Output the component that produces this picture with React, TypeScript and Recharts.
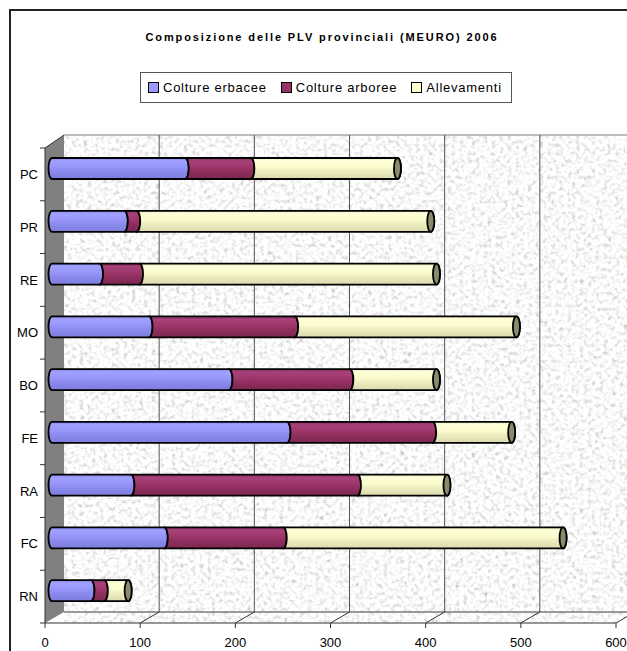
import React from 'react';
import { BarChart, Bar, XAxis, YAxis, ReferenceArea, ReferenceLine } from 'recharts';

const categories = ['PC', 'PR', 'RE', 'MO', 'BO', 'FE', 'RA', 'FC', 'RN'];
const coltureErbacee = [140, 76, 50, 102, 186, 247, 83, 118, 41];
const coltureArboree = [69, 13, 42, 153, 127, 153, 238, 125, 14];
const allevamenti = [154, 309, 312, 233, 91, 83, 94, 294, 25];
const xTicks = [0, 100, 200, 300, 400, 500, 600];
const gridValues = [100, 200, 300, 400, 500, 600];

const seriesNames = ['Colture erbacee', 'Colture arboree', 'Allevamenti'];
const seriesColors = ['#9999ff', '#993366', '#ffffcc'];

const data = categories.map((c, i) => ({
  cat: c,
  erb: coltureErbacee[i],
  arb: coltureArboree[i],
  all: allevamenti[i],
}));

const FONT = "Arial, 'Liberation Sans', sans-serif";
const DX = 19; // depth offset x
const DYT = -13; // depth offset top
const DYB = -11; // depth offset bottom
const BAR_DX = 7;
const BAR_DY = -6;

const Background = (props: any) => {
  const { x, y, width, height } = props;
  const bx = x + DX;
  const top = y + DYT;
  const bottom = y + height + DYB;
  const right = x + width + DX;
  return (
    <g>
      <defs>
        <filter id="granite" x="0" y="0" width="100%" height="100%" filterUnits="objectBoundingBox">
          <feTurbulence type="fractalNoise" baseFrequency="0.25" numOctaves="3" seed="11" result="n" />
          <feColorMatrix
            in="n"
            type="matrix"
            values="0.55 0.48 0.48 0 0.2  0.48 0.55 0.48 0 0.2  0.48 0.48 0.55 0 0.2  0 0 0 0 1"
          />
        </filter>
        <linearGradient id="gBlue" x1="0" y1="0" x2="0" y2="1">
          <stop offset="0" stopColor="#8a8af0" />
          <stop offset="0.15" stopColor="#a0a0ff" />
          <stop offset="0.45" stopColor="#9696fa" />
          <stop offset="0.6" stopColor="#8c8cf0" />
          <stop offset="1" stopColor="#7c7cdc" />
        </linearGradient>
        <linearGradient id="gMaroon" x1="0" y1="0" x2="0" y2="1">
          <stop offset="0" stopColor="#8c2e5e" />
          <stop offset="0.15" stopColor="#a8427a" />
          <stop offset="0.45" stopColor="#9c366a" />
          <stop offset="0.6" stopColor="#92305f" />
          <stop offset="1" stopColor="#7c2650" />
        </linearGradient>
        <linearGradient id="gYellow" x1="0" y1="0" x2="0" y2="1">
          <stop offset="0" stopColor="#ececc0" />
          <stop offset="0.15" stopColor="#ffffd8" />
          <stop offset="0.45" stopColor="#fafacc" />
          <stop offset="0.6" stopColor="#eeeec0" />
          <stop offset="1" stopColor="#dadaae" />
        </linearGradient>
        <clipPath id="wallClip">
          <polygon points={`${bx},${top} ${right + 40},${top} ${right + 40},${bottom} ${right},${bottom} ${x + width},${y + height} ${x},${y + height} ${bx},${bottom}`} />
        </clipPath>
      </defs>
      <g clipPath="url(#wallClip)">
        <rect x={bx} y={top} width={width + 60} height={height + 30} fill="#ececec" filter="url(#granite)" />
      </g>
      <line x1={bx} y1={top} x2={right + 40} y2={top} stroke="#a8a8a8" strokeWidth={1.5} />
      <line x1={bx} y1={bottom} x2={right + 40} y2={bottom} stroke="#7a7a7a" strokeWidth={1.5} />
      <polygon
        points={`${x},${y} ${bx},${top} ${bx},${bottom} ${x},${y + height}`}
        fill="#808080"
      />
      <line x1={x} y1={y} x2={x} y2={y + height} stroke="#333" strokeWidth={1} />
      <line x1={x} y1={y} x2={bx} y2={top} stroke="#333" strokeWidth={1} />
    </g>
  );
};

const GridShape = (props: any) => {
  const { x1, y1, y2 } = props;
  const topY = Math.min(y1, y2);
  const botY = Math.max(y1, y2);
  return (
    <g>
      <line x1={x1 + DX} y1={topY + DYT} x2={x1 + DX} y2={botY + DYB} stroke="#555" strokeWidth={1} />
      <line x1={x1} y1={botY} x2={x1 + DX} y2={botY + DYB} stroke="#333" strokeWidth={1} />
    </g>
  );
};

const makeShape = (grad: string, first: boolean, last: boolean) => (props: any) => {
  const { x, y, width, height } = props;
  if (width == null || height == null) return <g />;
  const X = x + BAR_DX;
  const Y = y + BAR_DY;
  const w = Math.max(0, width);
  const h = height;
  const rx = 3.5;
  const ry = h / 2;
  const leftSweep = first ? 1 : 0;
  const d = `M ${X} ${Y} L ${X + w} ${Y} A ${rx} ${ry} 0 0 1 ${X + w} ${Y + h} L ${X} ${Y + h} A ${rx} ${ry} 0 0 ${leftSweep} ${X} ${Y} Z`;
  return (
    <g>
      <path d={d} fill={`url(#${grad})`} stroke="#000" strokeWidth={1.8} strokeLinejoin="round" />
      {last && (
        <ellipse cx={X + w} cy={Y + h / 2} rx={rx} ry={ry} fill="#8a8a6c" stroke="#000" strokeWidth={1.8} />
      )}
    </g>
  );
};

const blueShape = makeShape('gBlue', true, false);
const maroonShape = makeShape('gMaroon', false, false);
const yellowShape = makeShape('gYellow', false, true);

const YTickBoundaries = (props: any) => {
  const { x, y, height } = props;
  const n = categories.length;
  const step = height / n;
  const lines = [];
  for (let i = 0; i <= n; i++) {
    lines.push(<line key={i} x1={x - 5} y1={y + i * step} x2={x} y2={y + i * step} stroke="#333" strokeWidth={1} />);
  }
  return <g>{lines}</g>;
};

export default function App() {
  return (
    <div style={{ position: 'absolute', left: 0, top: 0, width: 627, height: 651, overflow: 'hidden', background: '#fff' }}>
      <div
        style={{
          position: 'absolute',
          left: 9,
          top: 9,
          width: 640,
          height: 660,
          border: '2px solid #222',
          boxSizing: 'border-box',
        }}
      />
      <div
        style={{
          position: 'absolute',
          left: 10,
          top: 30,
          width: 624,
          textAlign: 'center',
          fontFamily: FONT,
          fontWeight: 'bold',
          fontSize: 11,
          letterSpacing: 1.9,
          lineHeight: '14px',
          color: '#000',
        }}
      >
        Composizione delle PLV provinciali (MEURO) 2006
      </div>
      <div
        style={{
          position: 'absolute',
          left: 140,
          top: 72,
          width: 372,
          height: 31,
          border: '1px solid #555',
          boxSizing: 'border-box',
          background: '#fff',
          display: 'flex',
          alignItems: 'center',
          paddingLeft: 7,
          fontFamily: FONT,
          fontSize: 13,
          color: '#000',
        }}
      >
        {seriesNames.map((n, i) => (
          <div key={n} style={{ display: 'flex', alignItems: 'center', marginRight: i < 2 ? 14 : 0 }}>
            <span
              style={{
                display: 'inline-block',
                width: 9,
                height: 9,
                background: seriesColors[i],
                border: '1px solid #000',
                marginRight: 4,
              }}
            />
            <span style={{ letterSpacing: 0.75 }}>{n}</span>
          </div>
        ))}
      </div>
      <div style={{ position: 'absolute', left: 0, top: 0 }}>
        <BarChart
          width={627}
          height={651}
          data={data}
          layout="vertical"
          margin={{ top: 148, right: 11, bottom: 0, left: 0 }}
          barSize={21}
        >
          <XAxis
            type="number"
            domain={[0, 600]}
            ticks={xTicks}
            interval={0}
            height={28}
            tickSize={5}
            tickMargin={10}
            axisLine={{ stroke: '#333' }}
            tickLine={{ stroke: '#333' }}
            tick={{ fill: '#000', fontSize: 13, fontFamily: FONT }}
          />
          <YAxis
            type="category"
            dataKey="cat"
            width={45}
            tickSize={5}
            tickMargin={2}
            axisLine={false}
            tickLine={false}
            tick={{ fill: '#000', fontSize: 13, fontFamily: FONT }}
          />
          <ReferenceArea x1={0} x2={600} ifOverflow="visible" shape={Background} zIndex={-200} />
          <ReferenceArea x1={0} x2={600} ifOverflow="visible" shape={YTickBoundaries} zIndex={-150} />
          {gridValues.map((v) => (
            <ReferenceLine key={v} x={v} ifOverflow="visible" shape={GridShape} zIndex={-100} />
          ))}
          <Bar dataKey="erb" name={seriesNames[0]} stackId="s" fill={seriesColors[0]} shape={blueShape} isAnimationActive={false} />
          <Bar dataKey="arb" name={seriesNames[1]} stackId="s" fill={seriesColors[1]} shape={maroonShape} isAnimationActive={false} />
          <Bar dataKey="all" name={seriesNames[2]} stackId="s" fill={seriesColors[2]} shape={yellowShape} isAnimationActive={false} />
        </BarChart>
      </div>
    </div>
  );
}
